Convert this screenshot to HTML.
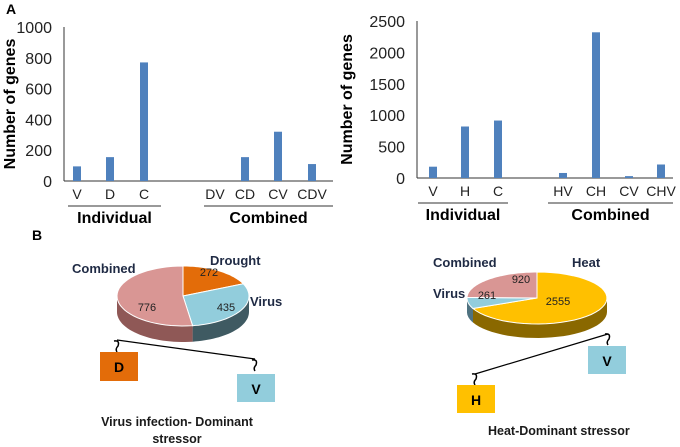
<!DOCTYPE html>
<html><head><meta charset="utf-8"><style>
body{margin:0;background:#fff}
svg{display:block;font-family:"Liberation Sans",sans-serif}
</style></head><body>
<svg id="s" width="680" height="447" viewBox="0 0 680 447">
<text x="6" y="14" font-size="14" font-weight="bold">A</text>
<text x="32" y="240" font-size="14" font-weight="bold">B</text>
<g id="c1"></g>
<g id="c2"></g>
<g id="p1"></g>
<g id="p2"></g>
<g>
<line x1="117" y1="340" x2="255" y2="359" stroke="#000" stroke-width="1.2"/>
<path d="M114,341 q6,-1 4,5 q-3,3 -1,6" fill="none" stroke="#000" stroke-width="1.5"/>
<path d="M252,360 q6,-1 4,5 q-3,3 -1,6" fill="none" stroke="#000" stroke-width="1.5"/>
<rect x="100" y="352" width="38" height="29" fill="#E36C09"/>
<text x="119" y="372" font-size="14" font-weight="bold" text-anchor="middle">D</text>
<rect x="237" y="374" width="38" height="28" fill="#92CDDC"/>
<text x="256" y="394" font-size="14" font-weight="bold" text-anchor="middle">V</text>
<text x="177" y="426" font-size="12.5" font-weight="bold" text-anchor="middle" fill="#1a1a1a">Virus infection- Dominant</text>
<text x="177" y="443" font-size="12.5" font-weight="bold" text-anchor="middle" fill="#1a1a1a">stressor</text>
</g>
<g>
<line x1="475" y1="374" x2="608" y2="334" stroke="#000" stroke-width="1.2"/>
<path d="M605,334 q6,-1 4,5 q-3,3 -1,6" fill="none" stroke="#000" stroke-width="1.5"/>
<path d="M472,374 q6,-1 4,5 q-3,3 -1,6" fill="none" stroke="#000" stroke-width="1.5"/>
<rect x="588" y="346" width="38" height="28" fill="#92CDDC"/>
<text x="607" y="366" font-size="14" font-weight="bold" text-anchor="middle">V</text>
<rect x="457" y="385" width="38" height="28" fill="#FFC000"/>
<text x="476" y="405" font-size="14" font-weight="bold" text-anchor="middle">H</text>
<text x="488" y="435" font-size="12.5" font-weight="bold" fill="#1a1a1a">Heat-Dominant stressor</text>
</g>
</svg>
<script>
const cats1=["V","D","C","DV","CD","CV","CDV"];
const vals1=[95,155,770,0,155,320,110];
const ticks1=[0,200,400,600,800,1000];
const cats2=["V","H","C","HV","CH","CV","CHV"];
const vals2=[180,820,915,80,2320,30,215];
const ticks2=[0,500,1000,1500,2000,2500];
const pie1Labels=["Drought","Virus","Combined"];
const pie1Vals=[272,435,776];
const pie2Labels=["Heat","Virus","Combined"];
const pie2Vals=[2555,261,920];
const NS="http://www.w3.org/2000/svg";
function mk(p,t,a,txt){const e=document.createElementNS(NS,t);for(const k in a)e.setAttribute(k,a[k]);if(txt!==undefined)e.textContent=txt;p.appendChild(e);return e;}
function bar(g,cfg,cats,vals,ticks){
 const y=v=>cfg.y0-(v/ticks[ticks.length-1])*(cfg.y0-cfg.yTop);
 mk(g,"line",{x1:cfg.ax,y1:cfg.yTop,x2:cfg.ax,y2:cfg.y0,stroke:"#333"});
 mk(g,"line",{x1:cfg.ax,y1:cfg.y0,x2:cfg.xEnd,y2:cfg.y0,stroke:"#333"});
 ticks.forEach(t=>{const e=mk(g,"text",{x:cfg.ax-12,y:y(t)+6,"font-size":16,"text-anchor":"end",fill:"#222"},t);
  
  });
 const yt=mk(g,"text",{x:0,y:0,"font-size":16,"font-weight":"bold","text-anchor":"middle",transform:`translate(${cfg.titleX},${(cfg.y0+cfg.yTop)/2}) rotate(-90)`},"Number of genes");
 
 
 cats.forEach((c,i)=>{const cx=cfg.xs[i];
  const r=mk(g,"rect",{x:cx-4,y:y(vals[i]),width:8,height:cfg.y0-y(vals[i]),fill:"#4F81BD"});
  
  
  const l=mk(g,"text",{x:cx,y:cfg.y0+18,"font-size":14,"text-anchor":"middle",fill:"#222"},c);
  
  });
 cfg.groups.forEach(gr=>{mk(g,"line",{x1:gr[0],y1:cfg.y0+25,x2:gr[1],y2:cfg.y0+25,stroke:"#333"});
  const t=mk(g,"text",{x:(gr[0]+gr[1])/2,y:cfg.y0+42,"font-size":16,"font-weight":"bold","text-anchor":"middle"},gr[2]);
  
  });
}
bar(document.getElementById("c1"),{ax:64,y0:181,yTop:27,xEnd:333,titleX:15,xs:[77,110,144,215,245,278,312],groups:[[68,161,"Individual"],[204,333,"Combined"]]},cats1,vals1,ticks1);
bar(document.getElementById("c2"),{ax:417,y0:178,yTop:21,xEnd:673,titleX:352,xs:[433,465,498,563,596,629,661],groups:[[418,508,"Individual"],[548,673,"Combined"]]},cats2,vals2,ticks2);
function pie(g,cx,cy,rx,ry,d,vals,cols,sides,labels,lpos,npos){
 const tot=vals.reduce((a,b)=>a+b,0);
 const P=(t,dy)=>[cx+rx*Math.sin(t),cy-ry*Math.cos(t)+(dy||0)];
 let a=0;const arcs=[];
 vals.forEach(v=>{const b=a+v/tot*2*Math.PI;arcs.push([a,b]);a=b;});
 arcs.forEach(([s,e],i)=>{const s2=Math.max(s,Math.PI/2),e2=Math.min(e,3*Math.PI/2);if(e2<=s2)return;
  let dd="";const n=30;
  for(let k=0;k<=n;k++){const p=P(s2+(e2-s2)*k/n);dd+=(k?"L":"M")+p[0].toFixed(1)+","+p[1].toFixed(1);}
  for(let k=n;k>=0;k--){const p=P(s2+(e2-s2)*k/n,d);dd+="L"+p[0].toFixed(1)+","+p[1].toFixed(1);}
  const e_=mk(g,"path",{d:dd+"Z",fill:sides[i]});
  
  });
 arcs.forEach(([s,e],i)=>{let dd=`M${cx},${cy}`;const n=40;
  for(let k=0;k<=n;k++){const p=P(s+(e-s)*k/n);dd+="L"+p[0].toFixed(1)+","+p[1].toFixed(1);}
  const sl=mk(g,"path",{d:dd+"Z",fill:cols[i],stroke:"#fff","stroke-width":1});
  
  });
 arcs.forEach((ar,i)=>{
  const nt=mk(g,"text",{x:npos[i][0],y:npos[i][1],"font-size":11,"text-anchor":"middle",fill:"#222"},vals[i]);
  
  
  const lt=mk(g,"text",{x:lpos[i][0],y:lpos[i][1],"font-size":13,"font-weight":"bold",fill:"#1F2A44","text-anchor":lpos[i][2]},labels[i]);
  
  });
}
pie(document.getElementById("p1"),183,296,66,30,16,pie1Vals,["#E36C09","#92CDDC","#D99694"],["#9c4a06","#3f5a62","#8f5856"],pie1Labels,[[210,265,"start"],[250,306,"start"],[72,273,"start"]],[[209,276],[226,311],[147,311]]);
pie(document.getElementById("p2"),537,298,70,26,14,pie2Vals,["#FFC000","#92CDDC","#D99694"],["#8a6800","#4f7280","#8f5856"],pie2Labels,[[572,267,"start"],[433,298,"start"],[433,267,"start"]],[[558,305],[487,299],[521,283]]);
</script>
</body></html>
